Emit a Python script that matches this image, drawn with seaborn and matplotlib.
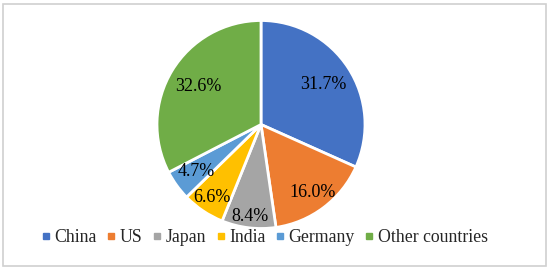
import numpy as np
import matplotlib
matplotlib.use("Agg")
import matplotlib.pyplot as plt
import matplotlib.patches as mpatches
from matplotlib.lines import Line2D
import seaborn as sns

# -----------------------------
# data
# -----------------------------
countries = ["China", "US", "Japan", "India", "Germany", "Other countries"]
shares = [31.7, 16.0, 8.4, 6.6, 4.7, 32.6]
pct_labels = ["31.7%", "16.0%", "8.4%", "6.6%", "4.7%", "32.6%"]
# how far out each label sits (fraction of radius), like excel "best fit"
label_dist = [0.71, 0.82, 0.89, 0.85, 0.77, 0.70]

colors = sns.color_palette(["#4472C4", "#ED7D31", "#A5A5A5", "#FFC000", "#5B9BD5", "#70AD47"])

sns.set_theme(style="white")
plt.rcParams["font.family"] = ["Liberation Serif", "DejaVu Serif"]

# -----------------------------
# figure
# -----------------------------
W, H = 550, 269
fig = plt.figure(figsize=(W / 100, H / 100), dpi=100)
fig.patch.set_facecolor("white")

cx, cy, r = 261, 124.5, 104
ax = fig.add_axes([(cx - r) / W, (H - cy - r) / H, 2 * r / W, 2 * r / H])

wedges, _ = ax.pie(shares, colors=colors, startangle=90, counterclock=False,
                   radius=1, wedgeprops=dict(edgecolor="white", linewidth=2))
ax.set_xlim(-1, 1)
ax.set_ylim(-1, 1)
ax.set_aspect("auto")
ax.axis("off")

for w, lab, d in zip(wedges, pct_labels, label_dist):
    ang = np.deg2rad((w.theta1 + w.theta2) / 2)
    ax.text(d * np.cos(ang), d * np.sin(ang), lab, ha="center", va="center",
            fontsize=13, color="black")

handles = [Line2D([], [], marker="s", linestyle="none", markersize=4,
                  markerfacecolor=c, markeredgecolor=c) for c in colors]
fig.legend(handles, countries, loc="center", bbox_to_anchor=(265 / W, 1 - 238 / H),
           ncol=6, frameon=False, fontsize=12.8, handletextpad=0.28,
           columnspacing=0.62, handlelength=0.4, borderaxespad=0)

# light gray frame round the whole chart
fig.patches.append(mpatches.Rectangle((3 / W, 3 / H), 1 - 7 / W, 1 - 7 / H,
                                      transform=fig.transFigure, fill=False,
                                      edgecolor="#d0d0d0", linewidth=1.2))

fig.savefig("out.png", dpi=100)
